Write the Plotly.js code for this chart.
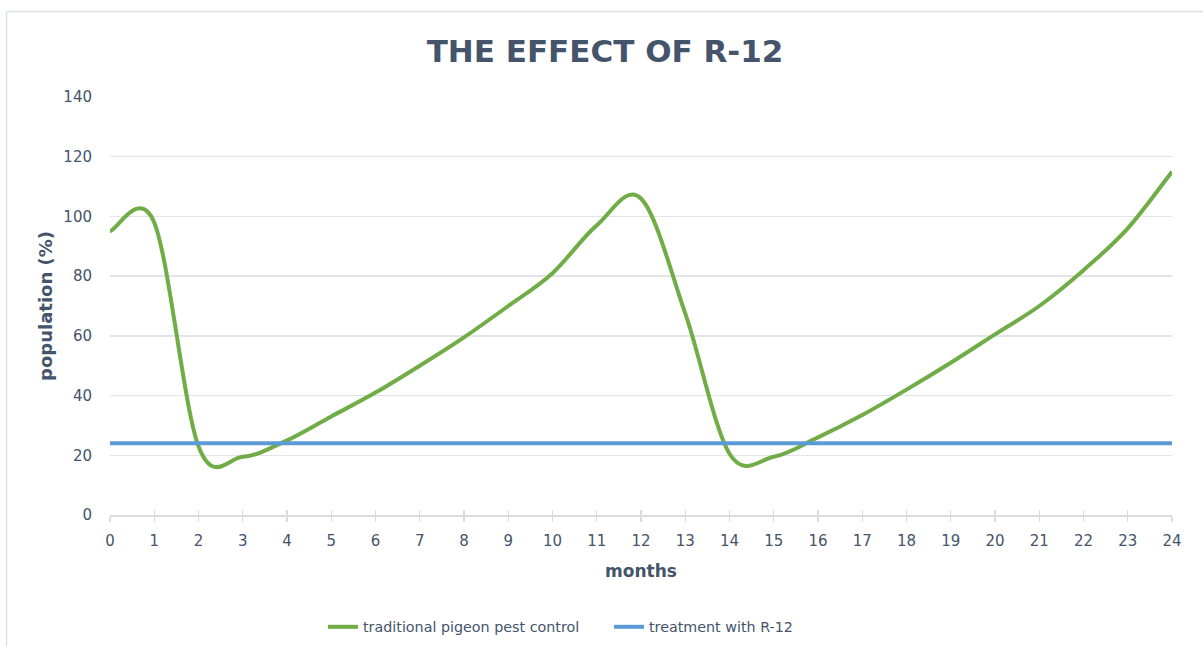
<!DOCTYPE html>
<html>
<head>
<meta charset="utf-8">
<script src="https://cdn.plot.ly/plotly-3.0.1.min.js"></script>
<style>
  html, body { margin: 0; padding: 0; background: #ffffff; }
  #chart { width: 1203px; height: 646px; }
</style>
</head>
<body>
<div id="chart"></div>
<script>
// Data
const months = [0,1,2,3,4,5,6,7,8,9,10,11,12,13,14,15,16,17,18,19,20,21,22,23,24];
const traditionalControl = [95,98,23,19.5,25,33,41,50,59.5,70,81,97,106,67.5,20.5,19.5,26,33.5,42,51,60.5,70,82,96,115];
const r12Level = 24;
const r12Treatment = months.map(() => r12Level);
const seriesNames = ['traditional pigeon pest control', 'treatment with R-12'];
const yTicks = [0,20,40,60,80,100,120,140];

const textColor = '#44546A';
const gridColor = '#E1E4E9';
const green = '#70AD47';
const blue = '#5B9BD5';
const fontFamily = 'DejaVu Sans, Verdana, sans-serif';

const W = 1203, H = 646;
const margin = {l: 110, r: 31, t: 97, b: 131, autoexpand: false};
const pw = W - margin.l - margin.r, ph = H - margin.t - margin.b;
const px2x = p => (p - margin.l) / pw;
const py2y = p => (H - margin.b - p) / ph;

// Smoothed line (spreadsheet-style Catmull-Rom -> cubic Bezier), in data coordinates
function smoothPath(xs, ys) {
  const n = xs.length;
  const P = i => [xs[Math.max(0, Math.min(n - 1, i))], ys[Math.max(0, Math.min(n - 1, i))]];
  let d = `M${xs[0]},${ys[0]}`;
  for (let i = 0; i < n - 1; i++) {
    const p0 = P(i - 1), p1 = P(i), p2 = P(i + 1), p3 = P(i + 2);
    const c1 = [p1[0] + (p2[0] - p0[0]) / 6, p1[1] + (p2[1] - p0[1]) / 6];
    const c2 = [p2[0] - (p3[0] - p1[0]) / 6, p2[1] - (p3[1] - p1[1]) / 6];
    d += ` C${c1[0]},${c1[1]} ${c2[0]},${c2[1]} ${p2[0]},${p2[1]}`;
  }
  return d;
}

const traces = [
  { // legend entry for the smoothed green series
    x: [null], y: [null], name: seriesNames[0],
    type: 'scatter', mode: 'lines',
    line: {color: green, width: 4}
  },
  {
    x: months, y: r12Treatment, name: seriesNames[1],
    type: 'scatter', mode: 'lines',
    line: {color: blue, width: 4}
  },
  { // green series data (drawn as smoothed path below)
    x: months, y: traditionalControl, name: seriesNames[0], showlegend: false,
    type: 'scatter', mode: 'lines', line: {color: green, width: 0}
  },
  {
    x: months, y: r12Treatment, xaxis: 'x2', showlegend: false,
    type: 'scatter', mode: 'lines', line: {width: 0}, hoverinfo: 'skip'
  }
];

const layout = {
  width: W, height: H,
  margin: margin,
  paper_bgcolor: '#ffffff', plot_bgcolor: '#ffffff',
  font: {family: fontFamily, color: textColor, size: 15},
  title: {
    text: 'THE EFFECT OF R-12',
    font: {family: fontFamily, size: 31, color: textColor, weight: 'bold'},
    x: px2x(605), xref: 'paper', xanchor: 'center',
    y: 1 - 51 / H, yref: 'container', yanchor: 'middle'
  },
  xaxis: {
    range: [0, 24], tick0: 0, dtick: 1,
    showgrid: false, zeroline: false, automargin: false,
    showline: true, linecolor: '#D9DCE1', linewidth: 1.5,
    ticks: 'outside', ticklen: 5, tickcolor: '#D9DCE1', tickwidth: 1.2,
    ticklabelstandoff: 6,
    tickfont: {size: 15, color: textColor},
    title: {text: 'months', font: {size: 17, color: textColor, weight: 'bold'}, standoff: 16}
  },
  xaxis2: {
    range: [0, 24], tick0: 0, dtick: 1, overlaying: 'x', anchor: 'y',
    showgrid: false, zeroline: false, showline: false, showticklabels: false,
    ticks: 'inside', ticklen: 5, tickcolor: '#D9DCE1', tickwidth: 1.2
  },
  yaxis: {
    range: [0, 140], tickvals: yTicks,
    showgrid: true, gridcolor: gridColor, gridwidth: 1.3,
    zeroline: false, showline: false, ticks: '', automargin: false,
    ticklabelstandoff: 17,
    tickfont: {size: 15, color: textColor},
    title: {text: 'population (%)', font: {size: 18, color: textColor, weight: 'bold'}, standoff: 6}
  },
  showlegend: true,
  legend: {
    orientation: 'h',
    x: px2x(323), xanchor: 'left',
    y: py2y(627), yanchor: 'middle',
    font: {size: 14.3, color: textColor},
    entrywidth: 241, entrywidthmode: 'pixels',
    traceorder: 'normal'
  },
  shapes: [
    {type: 'path', xref: 'x', yref: 'y', layer: 'between',
     path: smoothPath(months, traditionalControl),
     line: {color: green, width: 4}},
    {type: 'line', xref: 'paper', yref: 'paper', x0: px2x(6.5), x1: px2x(1203), y0: py2y(11.5), y1: py2y(11.5),
     line: {color: '#DDE1E6', width: 1.5}},
    {type: 'line', xref: 'paper', yref: 'paper', x0: px2x(6.5), x1: px2x(6.5), y0: py2y(11.5), y1: py2y(646),
     line: {color: '#DDE1E6', width: 1.5}}
  ]
};

Plotly.newPlot('chart', traces, layout, {displayModeBar: false, staticPlot: true});
</script>
</body>
</html>
